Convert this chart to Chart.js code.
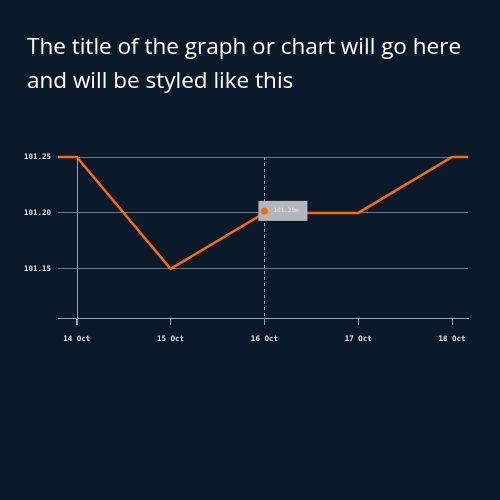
<!DOCTYPE html><html><head><script src="https://cdn.jsdelivr.net/npm/chart.js@4"></script>
<style>html,body{margin:0;background:#0a1a2b}#w{width:500px;height:500px}</style></head><body><div id="w"><canvas id="c"></canvas></div>
<script>
const dates=['14 Oct','15 Oct','16 Oct','17 Oct','18 Oct'];
const values=[101.25,101.15,101.20,101.20,101.25];
const xMin=-0.2,xMax=4.17;
const pts=[{x:xMin,y:values[0]}].concat(values.map((v,i)=>({x:i,y:v}))).concat([{x:xMax,y:values[4]}]);
const deco={id:'deco',
 beforeDatasetsDraw(ch){const c=ch.ctx,xs=ch.scales.x,a=ch.chartArea;c.save();c.strokeStyle='#9aa3ad';c.lineWidth=1;
  let x=Math.round(xs.getPixelForValue(0))+0.5;c.beginPath();c.moveTo(x,a.top);c.lineTo(x,a.bottom+7);c.stroke();
  x=Math.round(xs.getPixelForValue(2))+0.5;c.setLineDash([3,3]);c.beginPath();c.moveTo(x,a.top);c.lineTo(x,a.bottom+7);c.stroke();c.restore();},
 afterDraw(ch){const c=ch.ctx,xs=ch.scales.x,ys=ch.scales.y;c.save();
  c.fillStyle='#fff';c.font='500 22.5px "Open Sans"';c.textBaseline='middle';
  c.fillText('The title of the graph or chart will go here',27,48);c.fillText('and will be styled like this',27,82);
  const px=xs.getPixelForValue(2),py=ys.getPixelForValue(values[2]);
  c.fillStyle='#b3b6ba';c.fillRect(px-6,py-12,49,20);
  c.fillStyle='#ff6a00';c.beginPath();c.arc(px,py-2,3.5,0,7);c.fill();
  c.fillStyle='#e8e8e8';c.font='6px "DejaVu Sans Mono"';c.fillText('101.25m',px+9,py-2);c.restore();}};
new Chart(document.getElementById('c'),{type:'line',data:{datasets:[{data:pts,borderColor:'#ff6a00',borderWidth:2.5,pointRadius:0,tension:0,clip:false}]},
 options:{responsive:true,maintainAspectRatio:false,animation:false,layout:{padding:{top:157,right:32}},
 plugins:{legend:{display:false},tooltip:{enabled:false}},
 scales:{x:{type:'linear',min:xMin,max:xMax,afterBuildTicks(s){s.ticks=dates.map((d,i)=>({value:i}));},afterFit(s){s.height=182;},
   grid:{drawOnChartArea:false,color:'#9aa3ad',tickLength:7},border:{color:'#9aa3ad'},
   ticks:{color:'#e0e0e0',font:{family:'DejaVu Sans Mono',size:7.5,weight:'bold'},padding:10,maxRotation:0,callback:(v)=>dates[v]}},
  y:{min:101.106,max:101.25,afterBuildTicks(s){s.ticks=[101.15,101.20,101.25].map(v=>({value:v}));},afterFit(s){s.width=58;},
   grid:{color:'#6b7785',drawTicks:false},border:{display:false},
   ticks:{color:'#e0e0e0',font:{family:'DejaVu Sans Mono',size:7.5,weight:'bold'},padding:7,callback:v=>v.toFixed(2)}}}},plugins:[deco]});
</script></body></html>
